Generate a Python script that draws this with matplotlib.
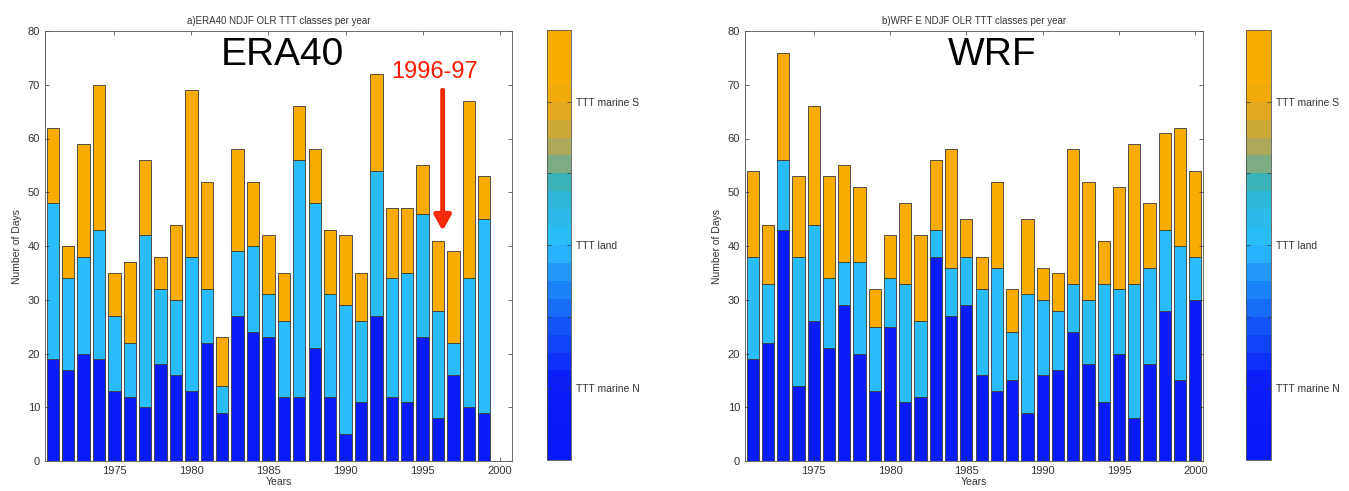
import numpy as np
import matplotlib
matplotlib.use("Agg")
import matplotlib.pyplot as plt
from matplotlib.colors import ListedColormap, LinearSegmentedColormap, Normalize
from matplotlib.cm import ScalarMappable

plt.rcParams['font.family'] = ['Liberation Sans', 'DejaVu Sans']

# ERA40, 1971-1999: marine N, land, marine S (days per class)
era_years = np.arange(1971, 2000)
era_n = [19, 17, 20, 19, 13, 12, 10, 18, 16, 13, 22, 9, 27, 24, 23, 12, 12, 21, 12, 5, 11, 27, 12, 11, 23, 8, 16, 10, 9]
era_land = [29, 17, 18, 24, 14, 10, 32, 14, 14, 25, 10, 5, 12, 16, 8, 14, 44, 27, 19, 24, 15, 27, 22, 24, 23, 20, 6, 24, 36]
era_s = [14, 6, 21, 27, 8, 15, 14, 6, 14, 31, 20, 9, 19, 12, 11, 9, 10, 10, 12, 13, 9, 18, 13, 12, 9, 13, 17, 33, 8]

# WRF, 1971-2000
wrf_years = np.arange(1971, 2001)
wrf_n = [19, 22, 43, 14, 26, 21, 29, 20, 13, 25, 11, 12, 38, 27, 29, 16, 13, 15, 9, 16, 17, 24, 18, 11, 20, 8, 18, 28, 15, 30]
wrf_land = [19, 11, 13, 24, 18, 13, 8, 17, 12, 9, 22, 14, 5, 9, 9, 16, 23, 9, 22, 14, 11, 9, 12, 22, 12, 25, 18, 15, 25, 8]
wrf_s = [16, 11, 20, 15, 22, 19, 18, 14, 7, 8, 15, 16, 13, 22, 7, 6, 16, 8, 14, 6, 7, 25, 22, 8, 19, 26, 12, 18, 22, 16]

class_labels = ["TTT marine N", "TTT land", "TTT marine S"]

c_n = "#0a1cf6"
c_land = "#29bdfd"
c_s = "#f8ab00"
txt = "#333333"

base = LinearSegmentedColormap.from_list("ttt", [
    (0.0, "#0a18f8"), (0.17, "#0a1ef6"), (0.33, "#1560f6"), (0.5, "#28befd"),
    (0.6, "#2cb8e0"), (0.66, "#3cb0b0"), (0.7, "#80ac80"), (0.76, "#c0a848"),
    (0.84, "#eaa818"), (0.9, "#f8ab00"), (1.0, "#f8ab00")])
cmap = ListedColormap(base(np.linspace(0, 1, 24)))

fig = plt.figure(figsize=(13.49, 4.91), dpi=100)
W, H = 1349, 491


def panel(rect, cbrect, years, n, land, s, title, xlim, big, bigx):
    ax = fig.add_axes([rect[0] / W, 1 - rect[3] / H, (rect[2] - rect[0]) / W, (rect[3] - rect[1]) / H])
    n = np.array(n)
    land = np.array(land)
    s = np.array(s)
    kw = dict(width=0.8, edgecolor="#3a3a3a", linewidth=0.6)
    ax.bar(years, n, color=c_n, **kw)
    ax.bar(years, land, bottom=n, color=c_land, **kw)
    ax.bar(years, s, bottom=n + land, color=c_s, **kw)
    ax.set_xlim(*xlim)
    ax.set_ylim(0, 80)
    ax.set_yticks(np.arange(0, 81, 10))
    ax.set_xticks(np.arange(1975, 2001, 5))
    ax.tick_params(direction="in", top=True, right=True, labelsize=8, colors=txt, length=3, width=0.5)
    for sp in ax.spines.values():
        sp.set_color("#555555")
        sp.set_linewidth(0.6)
    ax.set_title(title, fontsize=7, color=txt, pad=5)
    ax.set_xlabel("Years", fontsize=7.5, color=txt, labelpad=1)
    ax.set_ylabel("Number of Days", fontsize=7.5, color=txt, labelpad=4)
    ax.text(bigx, 75.5, big, fontsize=28, ha="center", va="center", color="black")

    cax = fig.add_axes([cbrect[0] / W, 1 - cbrect[3] / H, (cbrect[2] - cbrect[0]) / W, (cbrect[3] - cbrect[1]) / H])
    sm = ScalarMappable(norm=Normalize(0.5, 3.5), cmap=cmap)
    cb = fig.colorbar(sm, cax=cax)
    cb.set_ticks([1, 1.5, 2, 2.5, 3])
    cb.set_ticklabels([class_labels[0], "", class_labels[1], "", class_labels[2]])
    cb.ax.tick_params(direction="in", left=True, right=True, labelsize=7.5, colors=txt, length=3, width=0.5)
    cb.outline.set_edgecolor("#555555")
    cb.outline.set_linewidth(0.6)
    return ax


ax1 = panel((45, 31, 512, 461), (547, 30, 571, 460), era_years, era_n, era_land, era_s,
            "a)ERA40 NDJF OLR TTT classes per year", (1970.5, 2000.8), "ERA40", 1985.9)
ax1.text(1995.8, 72.3, "1996-97", fontsize=17, color="#ff1a00", ha="center", va="center")
ax1.annotate("", xy=(1996.3, 42.3), xytext=(1996.3, 69.5),
             arrowprops=dict(arrowstyle="-|>,head_width=0.5,head_length=0.9", color="#f52a0a", lw=3.5))

panel((745, 31, 1203, 461), (1246, 30, 1271, 460), wrf_years, wrf_n, wrf_land, wrf_s,
      "b)WRF E NDJF OLR TTT classes per year", (1970.5, 2000.5), "WRF", 1986.7)

fig.savefig("out.png", dpi=100)
